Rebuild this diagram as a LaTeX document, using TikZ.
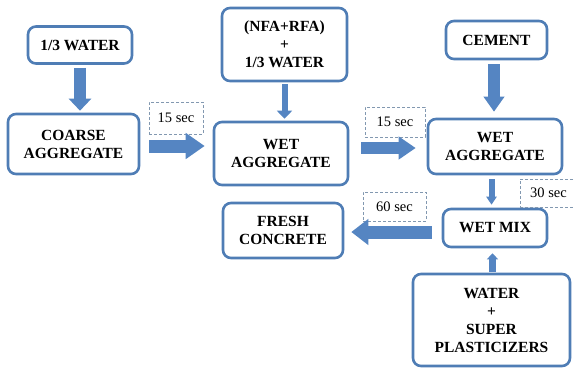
\documentclass[tikz,border=0pt]{standalone}
\usepackage{fontspec}
\setmainfont{Liberation Serif}
\usetikzlibrary{arrows.meta,calc}
\definecolor{bord}{HTML}{4F7DB5}
\definecolor{arr}{HTML}{5585C2}
\definecolor{dashc}{HTML}{8298B0}
\begin{document}
\begin{tikzpicture}[x=1pt,y=-1pt,
  box/.style={draw=bord, line width=2.6pt, rounded corners=8pt, fill=white, align=center,
    font=\fontsize{15.5}{18}\selectfont\rmfamily\bfseries, inner sep=0pt},
  lbl/.style={draw=dashc, dash pattern=on 3pt off 2pt, line width=1pt, fill=white,
    font=\fontsize{14.5}{17}\selectfont\rmfamily, inner sep=0pt},
  barrow/.style n args={3}{draw=arr, line width=#1, -{Triangle[width=#2,length=#3]}}]
\useasboundingbox (0,0) rectangle (574,368);
\clip (0,0) rectangle (574,368);

% boxes
\node[box, minimum width=104pt, minimum height=37pt] (w1) at (80,45) {1/3 WATER};
\node[box, minimum width=131pt, minimum height=60pt] (ca) at (73.5,144) {COARSE\\AGGREGATE};
\node[box, minimum width=125pt, minimum height=73pt] (nfa) at (284.5,44.5) {(NFA+RFA)\\+\\1/3 WATER};
\node[box, minimum width=134pt, minimum height=63pt] (wa1) at (281,153.5) {WET\\AGGREGATE};
\node[box, minimum width=101pt, minimum height=38pt] (cem) at (496.5,40) {CEMENT};
\node[box, minimum width=134pt, minimum height=55pt] (wa2) at (495,146.5) {WET\\AGGREGATE};
\node[box, minimum width=104pt, minimum height=38pt] (wm) at (495,228) {WET MIX};
\node[box, minimum width=120pt, minimum height=55pt] (fc) at (283,230.5) {FRESH\\CONCRETE};
\node[box, minimum width=157pt, minimum height=92pt] (wsp) at (491.5,320) {WATER\\+\\SUPER\\PLASTICIZERS};

% dashed time labels
\node[lbl, minimum width=54pt, minimum height=32pt] (t1) at (176,118) {15 sec};
\node[lbl, minimum width=60pt, minimum height=30pt] (t2) at (395,122) {15 sec};
\node[lbl, minimum width=60pt, minimum height=28pt] (t3) at (550,193) {\hspace*{-3pt}30 sec};
\node[lbl, minimum width=63pt, minimum height=29pt] (t4) at (394.5,206.5) {60 sec};

% arrow end points
\coordinate (a2s) at ($(ca.east)+(0,2)$);
\coordinate (a2e) at (a2s -| wa1.west);
\coordinate (a4s) at ($(wa1.east)+(0,-5.5)$);
\coordinate (a4e) at (a4s -| wa2.west);
\coordinate (a5s) at ($(cem.south)+(-2.5,0)$);
\coordinate (a5e) at (a5s |- wa2.north);
\coordinate (a6s) at ($(wa2.south)+(-3.5,0)$);
\coordinate (a6e) at (a6s |- wm.north);
\coordinate (a7s) at ($(wm.west)+(0,4)$);
\coordinate (a7e) at (a7s -| fc.east);
\coordinate (a8s) at ($(wsp.north)+(1,0)$);
\coordinate (a8e) at (a8s |- wm.south);

% block arrows
\draw[barrow={12pt}{22pt}{12pt}, shorten <=3pt, shorten >=2pt]
  (w1.south) -- (w1.south |- ca.north);
\draw[barrow={13pt}{25pt}{19pt}, shorten <=9pt, shorten >=8pt] (a2s) -- (a2e);
\draw[barrow={6pt}{15pt}{8pt}, shorten <=2pt, shorten >=2pt]
  (nfa.south) -- (nfa.south |- wa1.north);
\draw[barrow={12pt}{22pt}{17pt}, shorten <=12pt, shorten >=11pt] (a4s) -- (a4e);
\draw[barrow={12pt}{20pt}{15pt}, shorten <=4pt, shorten >=6pt] (a5s) -- (a5e);
\draw[barrow={6pt}{10pt}{8pt}, shorten <=4pt, shorten >=3pt] (a6s) -- (a6e);
\draw[barrow={13pt}{25pt}{17pt}, shorten <=10pt, shorten >=7pt] (a7s) -- (a7e);
\draw[barrow={7pt}{11pt}{6pt}, shorten <=1pt, shorten >=5pt] (a8s) -- (a8e);
\end{tikzpicture}
\end{document}
